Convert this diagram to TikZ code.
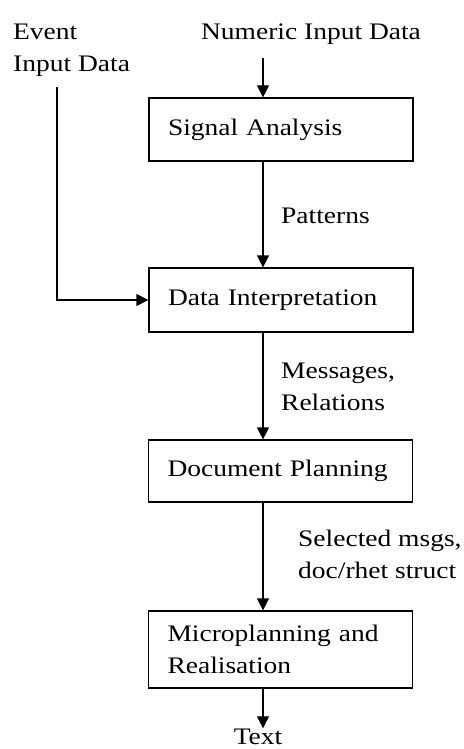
\documentclass[tikz,border=0pt]{standalone}
\usepackage{fontspec}
\setmainfont[FakeStretch=1.16]{Liberation Serif}
\usetikzlibrary{arrows.meta}
\begin{document}
\begin{tikzpicture}[x=1pt,y=-1pt,
  font=\fontsize{23.7}{32}\selectfont,
  stage/.style={draw, line width=1.2pt, minimum width=264pt, text width=226pt, align=left, inner xsep=19pt, inner ysep=0pt},
  lbl/.style={align=left, inner sep=0pt, anchor=base west},
  flow/.style={line width=1.2pt, -{Triangle[length=12pt,width=12pt]}}]
\useasboundingbox (0,0) rectangle (463,749);
\coordinate (ax) at (263,0);
\node[inner sep=0pt, anchor=base] (num) at (311,40) {Numeric Input Data};
\node[lbl] (ev) at (13,72) {Event\\Input Data};
\coordinate (evtop) at (57,87);
\node[stage, minimum height=63pt] (sig) at (281,129.5) {Signal Analysis};
\node[stage, minimum height=64pt] (dat) at (281,300) {Data Interpretation};
\node[stage, minimum height=62pt] (doc) at (280.5,471) {Document Planning};
\node[stage, minimum height=77pt] (mic) at (280.5,649.5) {Microplanning and\\Realisation};
\node[inner sep=0pt, anchor=base] (txt) at (258,744) {Text};
\node[lbl] (pat) at (281,223) {Patterns};
\node[lbl] (msg) at (281,410) {Messages,\\Relations};
\node[lbl] (sel) at (298,578) {Selected msgs,\\doc/rhet struct};
\coordinate (numb) at (263,58);
\draw[flow] (numb) -- (sig.north -| ax);
\draw[flow] (sig.south -| ax) -- (dat.north -| ax);
\draw[flow] (dat.south -| ax) -- (doc.north -| ax);
\draw[flow] (doc.south -| ax) -- (mic.north -| ax);
\draw[flow] (mic.south -| ax) -- (txt.north -| ax);
\draw[flow] (evtop) |- (dat.west);
\end{tikzpicture}
\end{document}
